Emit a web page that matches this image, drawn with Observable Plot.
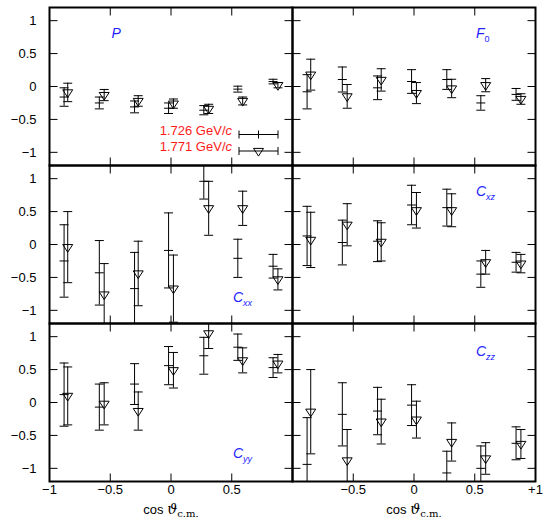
<!DOCTYPE html>
<html><head><meta charset="utf-8">
<script src="https://cdn.jsdelivr.net/npm/d3@7"></script>
<script src="https://cdn.jsdelivr.net/npm/@observablehq/plot@0.6"></script>
<style>html,body{margin:0;padding:0;background:#fff}#chart{width:545px;height:521px}</style>
</head><body><div id="chart"></div>
<script>
// ---- data ----
const cos1726 = [-0.88, -0.59, -0.30, -0.02, 0.27, 0.55, 0.84];
const cos1771 = [-0.85, -0.55, -0.27, 0.02, 0.31, 0.59, 0.88];
const observables = ["P", "F0", "Cxx", "Cxz", "Cyy", "Czz"];
const panelCol = [0, 1, 0, 1, 0, 1];
const panelRow = [0, 0, 1, 1, 2, 2];

const P_1726 = [-0.16, -0.25, -0.31, -0.33, -0.36, -0.04, 0.075];
const P_1726_err = [0.14, 0.09, 0.09, 0.08, 0.07, 0.045, 0.035];
const P_1771 = [-0.09, -0.13, -0.22, -0.26, -0.34, -0.22, 0.02];
const P_1771_err = [0.14, 0.085, 0.08, 0.07, 0.07, 0.06, 0.04];

const F0_1726 = [-0.08, 0.106, -0.02, 0.076, 0.106, -0.25, -0.12];
const F0_1726_err = [0.26, 0.19, 0.18, 0.18, 0.15, 0.11, 0.09];
const F0_1771 = [0.18, -0.15, 0.10, -0.10, -0.03, 0.02, -0.19];
const F0_1771_err = [0.235, 0.18, 0.17, 0.16, 0.14, 0.10, 0.08];

const Cxx_1726 = [-0.25, -0.43, -0.67, -0.09, 0.96, -0.21, -0.33];
const Cxx_1726_err = [0.55, 0.49, 0.55, 0.57, 0.27, 0.29, 0.18];
const Cxx_1771 = [-0.04, -0.76, -0.44, -0.67, 0.55, 0.55, -0.53];
const Cxx_1771_err = [0.54, 0.47, 0.49, 0.51, 0.41, 0.26, 0.16];

const Cxz_1726 = [0.13, 0.03, 0.05, 0.60, 0.56, -0.45, -0.27];
const Cxz_1726_err = [0.45, 0.34, 0.31, 0.30, 0.28, 0.20, 0.15];
const Cxz_1771 = [0.07, 0.30, 0.04, 0.52, 0.52, -0.27, -0.29];
const Cxz_1771_err = [0.42, 0.32, 0.29, 0.27, 0.25, 0.18, 0.14];

const Cyy_1726 = [0.12, -0.07, 0.28, 0.56, 0.71, 0.84, 0.53];
const Cyy_1726_err = [0.48, 0.35, 0.31, 0.29, 0.28, 0.20, 0.15];
const Cyy_1771 = [0.10, -0.02, -0.13, 0.49, 1.05, 0.64, 0.59];
const Cyy_1771_err = [0.44, 0.32, 0.29, 0.27, 0.23, 0.19, 0.14];

const Czz_1726 = [-0.94, -0.18, -0.13, -0.04, -1.07, -1.0, -0.62];
const Czz_1726_err = [0.71, 0.48, 0.36, 0.31, 0.33, 0.34, 0.25];
const Czz_1771 = [-0.14, -0.88, -0.29, -0.26, -0.60, -0.85, -0.63];
const Czz_1771_err = [0.64, 0.47, 0.34, 0.28, 0.29, 0.24, 0.22];

const seriesNames = ["1.726 GeV/c", "1.771 GeV/c"];
const labelX = [-0.49, 0.51, 0.51, 0.51, 0.51, 0.51];
const labelY = [0.80, 0.80, -0.80, 0.80, -0.78, 0.78];

const xTicks = [-0.5, 0, 0.5];
const yTicks = [-1, -0.5, 0, 0.5, 1];
const yTickLabels = ["\u22121", "\u22120.5", "0", "0.5", "1"];
const xTickValuesLeft = [-1, -0.5, 0, 0.5];
const xTickLabelsLeft = ["\u22121", "\u22120.5", "0", "0.5"];
const xTickValuesRight = [-0.5, 0, 0.5, 1];
const xTickLabelsRight = ["\u22120.5", "0", "0.5", "+1"];
const xTitle = "cos \u03D1c.m.";

// ---- table ----
const values = {
  P: [P_1726, P_1726_err, P_1771, P_1771_err],
  F0: [F0_1726, F0_1726_err, F0_1771, F0_1771_err],
  Cxx: [Cxx_1726, Cxx_1726_err, Cxx_1771, Cxx_1771_err],
  Cxz: [Cxz_1726, Cxz_1726_err, Cxz_1771, Cxz_1771_err],
  Cyy: [Cyy_1726, Cyy_1726_err, Cyy_1771, Cyy_1771_err],
  Czz: [Czz_1726, Czz_1726_err, Czz_1771, Czz_1771_err]
};
const rows = [];
observables.forEach((obs, k) => {
  const [a, ae, b, be] = values[obs];
  a.forEach((v, i) => rows.push({obs, col: panelCol[k], row: panelRow[k], s: 0, x: cos1726[i], y: v, lo: v - ae[i], hi: v + ae[i]}));
  b.forEach((v, i) => rows.push({obs, col: panelCol[k], row: panelRow[k], s: 1, x: cos1771[i], y: v, lo: v - be[i], hi: v + be[i]}));
});
const rowsA = rows.filter(d => d.s === 0);
const rowsB = rows.filter(d => d.s === 1);
const panels = observables.map((obs, k) => ({obs, col: panelCol[k], row: panelRow[k], x: labelX[k], y: labelY[k]}));
const xLabRows = [
  ...xTickValuesLeft.map((v, i) => ({col: 0, x: v, t: xTickLabelsLeft[i]})),
  ...xTickValuesRight.map((v, i) => ({col: 1, x: v, t: xTickLabelsRight[i]}))
];

// ---- symbols ----
const line = (x1, y1, x2, y2) => ({draw(c) { c.moveTo(x1, y1); c.lineTo(x2, y2); }});
const cap = line(-4.5, 0, 4.5, 0);
const tickUp = line(0, 0, 0, -8);
const tickDown = line(0, 0, 0, 8);
const tickRight = line(0, 0, 8, 0);
const tickLeft = line(0, 0, -8, 0);
const triDown = {draw(c) { c.moveTo(-5, -2.6); c.lineTo(5, -2.6); c.lineTo(0, 5.1); c.closePath(); }};
const legendBar = {draw(c) {
  c.moveTo(-19.5, 0); c.lineTo(19.5, 0);
  c.moveTo(-19.5, -4); c.lineTo(-19.5, 4);
  c.moveTo(19.5, -4); c.lineTo(19.5, 4);
}};
const vMark = line(0, -4, 0, 4);

const ink = {stroke: "black", fill: "none", strokeWidth: 1};
const font = "Liberation Sans, Arial, sans-serif";

const chart = Plot.plot({
  width: 545, height: 521,
  marginLeft: 48, marginRight: 10, marginTop: 7, marginBottom: 40,
  style: {fontFamily: font, background: "white"},
  x: {domain: [-1, 1], axis: null},
  y: {domain: [-1.2, 1.2], axis: null},
  fx: {domain: [0, 1], padding: 0, axis: null},
  fy: {domain: [0, 1, 2], padding: 0, axis: null},
  marks: [
    // inward ticks on all panel sides
    Plot.dot(xTicks, {x: d => d, frameAnchor: "bottom", symbol: tickUp, ...ink}),
    Plot.dot(xTicks, {x: d => d, frameAnchor: "top", symbol: tickDown, ...ink}),
    Plot.dot(yTicks, {y: d => d, frameAnchor: "left", symbol: tickRight, ...ink}),
    Plot.dot(yTicks, {y: d => d, frameAnchor: "right", symbol: tickLeft, ...ink}),
    // y tick labels on left column
    Plot.text(yTicks, {y: d => d, fx: () => 0, text: (d, i) => yTickLabels[i], frameAnchor: "left", dx: -13, textAnchor: "end", fontSize: 13, fill: "black"}),
    // x tick labels on bottom row
    Plot.text(xLabRows, {x: "x", fx: "col", fy: () => 2, text: "t", frameAnchor: "bottom", dy: 12, fontSize: 13, fill: "black"}),
    Plot.text([0, 1], {x: () => 0, fx: d => d, fy: () => 2, text: () => xTitle, frameAnchor: "bottom", dy: 32, fontSize: 13, fill: "black"}),
    // error bars
    Plot.ruleX(rows, {x: "x", y1: "lo", y2: "hi", fx: "col", fy: "row", stroke: "black", strokeWidth: 1, clip: true}),
    Plot.dot(rows, {x: "x", y: "lo", fx: "col", fy: "row", symbol: cap, ...ink, clip: true}),
    Plot.dot(rows, {x: "x", y: "hi", fx: "col", fy: "row", symbol: cap, ...ink, clip: true}),
    // point markers
    Plot.dot(rowsA, {x: "x", y: "y", fx: "col", fy: "row", symbol: cap, ...ink, clip: true}),
    Plot.dot(rowsB, {x: "x", y: "y", fx: "col", fy: "row", symbol: triDown, ...ink, clip: true}),
    // panel labels
    Plot.text(panels, {x: "x", y: "y", fx: "col", fy: "row", text: "obs", textAnchor: "start", fontSize: 14, fill: "#2424ff"}),
    // legend (P panel)
    Plot.text([seriesNames[0]], {fx: () => 0, fy: () => 0, text: d => d, frameAnchor: "bottom-right", dx: -60.5, dy: -31, textAnchor: "end", fontSize: 13, fill: "#ff1a1a"}),
    Plot.text([seriesNames[1]], {fx: () => 0, fy: () => 0, text: d => d, frameAnchor: "bottom-right", dx: -60.5, dy: -14.5, textAnchor: "end", fontSize: 13, fill: "#ff1a1a"}),
    Plot.dot([seriesNames[0]], {fx: () => 0, fy: () => 0, frameAnchor: "bottom-right", dx: -34, dy: -31, symbol: legendBar, ...ink}),
    Plot.dot([seriesNames[0]], {fx: () => 0, fy: () => 0, frameAnchor: "bottom-right", dx: -34, dy: -31, symbol: vMark, ...ink}),
    Plot.dot([seriesNames[1]], {fx: () => 0, fy: () => 0, frameAnchor: "bottom-right", dx: -34, dy: -14.5, symbol: legendBar, ...ink}),
    Plot.dot([seriesNames[1]], {fx: () => 0, fy: () => 0, frameAnchor: "bottom-right", dx: -34, dy: -14.5, symbol: triDown, ...ink}),
    Plot.frame({stroke: "black", strokeWidth: 2})
  ]
});

// rich text: italics and subscripts
const subs = {P: ["P", ""], F0: ["F", "0"], Cxx: ["C", "xx"], Cxz: ["C", "xz"], Cyy: ["C", "yy"], Czz: ["C", "zz"]};
d3.select(chart).selectAll("text").each(function () {
  const t = this.textContent;
  const sel = d3.select(this);
  if (subs[t]) {
    const [base, sub] = subs[t];
    sel.text(null);
    sel.append("tspan").attr("font-style", "italic").text(base);
    if (sub) sel.append("tspan").attr("font-size", 9).attr("dy", 4)
      .attr("font-style", sub === "0" ? "normal" : "italic").text(sub);
  } else if (seriesNames.includes(t)) {
    sel.text(null);
    sel.append("tspan").text(t.slice(0, -1));
    sel.append("tspan").attr("font-style", "italic").text("c");
  } else if (t === xTitle) {
    sel.text(null);
    sel.append("tspan").text("cos ");
    sel.append("tspan").attr("font-family", "DejaVu Serif, serif").attr("font-style", "italic").attr("font-size", 14).text("\u03D1");
    sel.append("tspan").attr("font-family", "DejaVu Serif, Liberation Serif, serif").attr("font-size", 10).attr("dy", 3).text("c.m.");
  }
});
document.getElementById("chart").appendChild(chart);
</script>
</body></html>
